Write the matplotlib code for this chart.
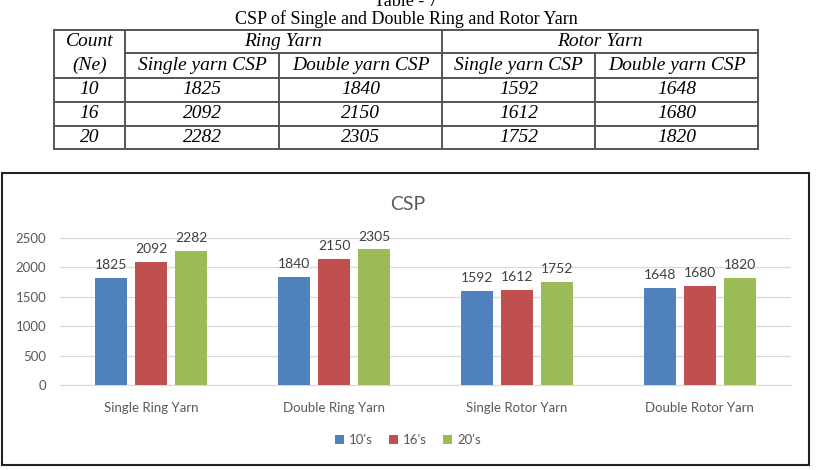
import matplotlib
matplotlib.use('Agg')
import matplotlib.pyplot as plt
from matplotlib.patches import Rectangle
import numpy as np

# table data
counts = ['10', '16', '20']
ring_single = [1825, 2092, 2282]
ring_double = [1840, 2150, 2305]
rotor_single = [1592, 1612, 1752]
rotor_double = [1648, 1680, 1820]

categories = ['Single Ring Yarn', 'Double Ring Yarn', 'Single Rotor Yarn', 'Double Rotor Yarn']
series_labels = ["10's", "16's", "20's"]
colors = ['#4F81BD', '#C0504D', '#9BBB59']

W, H = 816, 470
fig = plt.figure(figsize=(W / 100, H / 100), dpi=100)


def fx(px):
    return px / W


def fy(py):
    return 1 - py / H


# ---- table above the chart ----
serif = 'Liberation Serif'
fig.text(fx(406), fy(1), 'Table - 7', ha='center', va='center', family=serif, fontsize=13)
fig.text(fx(406), fy(19), 'CSP of Single and Double Ring and Rotor Yarn',
         ha='center', va='center', family=serif, fontsize=13)

cols = [54, 125, 279, 442, 595, 758]
rows = [30, 53, 78, 102, 126, 149]
lc = '#555555'


def hline(y, x0, x1):
    fig.add_artist(plt.Line2D([fx(x0), fx(x1)], [fy(y), fy(y)], color=lc, lw=1.4))


def vline(x, y0, y1):
    fig.add_artist(plt.Line2D([fx(x), fx(x)], [fy(y0), fy(y1)], color=lc, lw=1.4))


for y in rows:
    if y == rows[1]:
        hline(y, cols[1], cols[-1])
    else:
        hline(y, cols[0], cols[-1])
for i, x in enumerate(cols):
    if i in (2, 4):
        vline(x, rows[1], rows[-1])
    else:
        vline(x, rows[0], rows[-1])

tkw = dict(ha='center', va='center', family=serif, style='italic', fontsize=14)
fig.text(fx((cols[0] + cols[1]) / 2), fy((rows[0] + rows[1]) / 2), 'Count', **tkw)
fig.text(fx((cols[0] + cols[1]) / 2), fy((rows[1] + rows[2]) / 2), '(Ne)', **tkw)
fig.text(fx((cols[1] + cols[3]) / 2), fy((rows[0] + rows[1]) / 2), 'Ring Yarn', **tkw)
fig.text(fx((cols[3] + cols[5]) / 2), fy((rows[0] + rows[1]) / 2), 'Rotor Yarn', **tkw)
sub = ['Single yarn CSP', 'Double yarn CSP', 'Single yarn CSP', 'Double yarn CSP']
for j, s in enumerate(sub):
    fig.text(fx((cols[j + 1] + cols[j + 2]) / 2), fy((rows[1] + rows[2]) / 2), s, **tkw)

table_cols = [counts, ring_single, ring_double, rotor_single, rotor_double]
for i in range(3):
    for j, col in enumerate(table_cols):
        fig.text(fx((cols[j] + cols[j + 1]) / 2), fy((rows[i + 2] + rows[i + 3]) / 2),
                 str(col[i]), **tkw)

# ---- chart ----
fig.add_artist(Rectangle((fx(2), fy(465)), fx(807), (465 - 173) / H,
                         fill=False, edgecolor='#222222', lw=1.5))

sans = 'Lato'
gray = '#595959'
fig.text(0.5, fy(204), 'CSP', ha='center', va='center', family=sans, fontsize=14, color=gray)

ax = fig.add_axes([fx(60), fy(385), fx(791 - 60), (385 - 238) / H])
series = np.array([ring_single, ring_double, rotor_single, rotor_double]).T
x = np.arange(len(categories))
width = 0.175
step = 0.219
for k in range(3):
    bars = ax.bar(x + (k - 1) * step, series[k], width, color=colors[k], label=series_labels[k],
                  zorder=3)
    for b, v in zip(bars, series[k]):
        ax.annotate(str(v), (b.get_x() + b.get_width() / 2, v), xytext=(0, 5),
                    textcoords='offset points', ha='center', va='bottom',
                    family=sans, fontsize=10, color='#404040')

ax.set_xlim(-0.5, len(categories) - 0.5)
ax.set_ylim(0, 2500)
ax.set_yticks(np.arange(0, 2501, 500))
ax.set_xticks(x)
ax.set_xticklabels(categories)
ax.grid(axis='y', color='#D9D9D9', lw=0.9, zorder=0)
for s in ['top', 'right', 'left']:
    ax.spines[s].set_visible(False)
ax.spines['bottom'].set_color('#D9D9D9')
ax.tick_params(axis='both', length=0, labelcolor=gray, labelsize=9.5)
ax.tick_params(axis='x', pad=12)
ax.tick_params(axis='y', pad=10)
for lab in ax.get_xticklabels() + ax.get_yticklabels():
    lab.set_family(sans)

fig.legend(loc='center', bbox_to_anchor=(0.5, fy(440)), ncol=3, frameon=False,
           handlelength=0.7, handleheight=0.7, handletextpad=0.4, columnspacing=1.2,
           prop={'family': sans, 'size': 9.5}, labelcolor=gray)

fig.savefig('out.png', dpi=100)
